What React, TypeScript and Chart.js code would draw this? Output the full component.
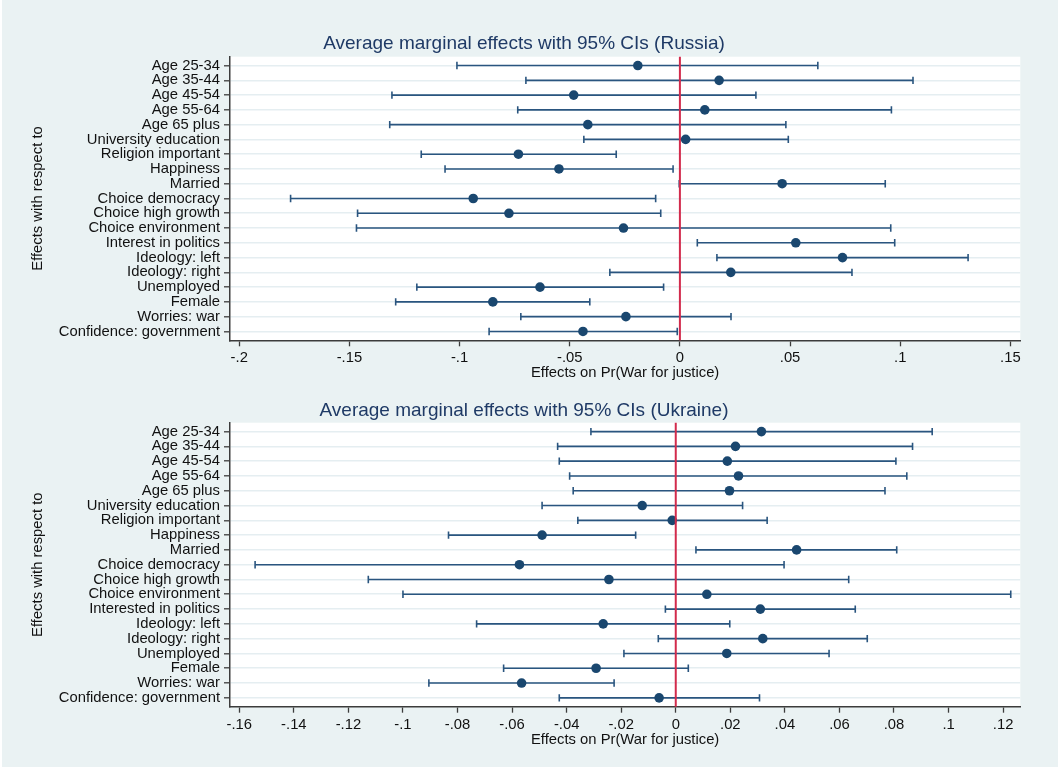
import { useEffect, useRef } from "react";
import { Chart, registerables } from "chart.js";

Chart.register(...registerables);

// ---------- data ----------
const russiaCategories = [
  "Age 25-34", "Age 35-44", "Age 45-54", "Age 55-64", "Age 65 plus",
  "University education", "Religion important", "Happiness", "Married",
  "Choice democracy", "Choice high growth", "Choice environment",
  "Interest in politics", "Ideology: left", "Ideology: right", "Unemployed",
  "Female", "Worries: war", "Confidence: government",
];
const ukraineCategories = [
  "Age 25-34", "Age 35-44", "Age 45-54", "Age 55-64", "Age 65 plus",
  "University education", "Religion important", "Happiness", "Married",
  "Choice democracy", "Choice high growth", "Choice environment",
  "Interested in politics", "Ideology: left", "Ideology: right", "Unemployed",
  "Female", "Worries: war", "Confidence: government",
];

const russiaEstimate = [-0.0191, 0.0178, -0.0482, 0.0113, -0.0418, 0.0026, -0.0733, -0.0549, 0.0464, -0.0938, -0.0776, -0.0256, 0.0526, 0.0738, 0.0231, -0.0635, -0.0849, -0.0245, -0.044];
const russiaLower = [-0.1012, -0.0699, -0.1307, -0.0736, -0.1317, -0.0436, -0.1174, -0.1066, -0.0003, -0.1767, -0.1463, -0.1468, 0.0079, 0.0168, -0.0318, -0.1194, -0.129, -0.0722, -0.0866];
const russiaUpper = [0.0626, 0.1058, 0.0345, 0.096, 0.0481, 0.0492, -0.0289, -0.0031, 0.0932, -0.011, -0.0087, 0.0957, 0.0975, 0.1308, 0.0781, -0.0074, -0.0409, 0.0232, -0.0012];

const ukraineEstimate = [0.0314, 0.0219, 0.0189, 0.023, 0.0197, -0.0123, -0.0013, -0.049, 0.0443, -0.0573, -0.0245, 0.0114, 0.031, -0.0266, 0.0319, 0.0187, -0.0292, -0.0565, -0.0061];
const ukraineLower = [-0.0311, -0.0433, -0.0427, -0.0389, -0.0376, -0.049, -0.0359, -0.0833, 0.0074, -0.1542, -0.1127, -0.1, -0.0038, -0.073, -0.0064, -0.019, -0.0631, -0.0905, -0.0427];
const ukraineUpper = [0.094, 0.0868, 0.0807, 0.0847, 0.0767, 0.0245, 0.0335, -0.0147, 0.081, 0.0397, 0.0634, 0.1228, 0.0658, 0.0198, 0.0702, 0.0562, 0.0046, -0.0226, 0.0307];

const russiaTickValues = [-0.2, -0.15, -0.1, -0.05, 0, 0.05, 0.1, 0.15];
const russiaTickLabels = ["-.2", "-.15", "-.1", "-.05", "0", ".05", ".1", ".15"];
const ukraineTickValues = [-0.16, -0.14, -0.12, -0.1, -0.08, -0.06, -0.04, -0.02, 0, 0.02, 0.04, 0.06, 0.08, 0.1, 0.12];
const ukraineTickLabels = ["-.16", "-.14", "-.12", "-.1", "-.08", "-.06", "-.04", "-.02", "0", ".02", ".04", ".06", ".08", ".1", ".12"];

const russiaRange = [-0.2042, 0.1545];
const ukraineRange = [-0.1634, 0.1263];
const zeroLineValue = 0;

const russiaTitle = "Average marginal effects with 95% CIs (Russia)";
const ukraineTitle = "Average marginal effects with 95% CIs (Ukraine)";
const xAxisTitle = "Effects on Pr(War for justice)";
const yAxisTitle = "Effects with respect to";

// ---------- style ----------
const FONT = "'Liberation Sans', Arial, Helvetica, sans-serif";
const PAGE_W = 1058;
const PAGE_H = 767;
const PLOT_LEFT = 230;
const PLOT_RIGHT = 1020.3;
const TITLE_CENTER_X = 524;
const ROW_PAD = 0.6;
const BG = "#eaf2f3";
const GRID = "#e5eef1";
const AXIS = "#3c3c3c";
const TEXT = "#111111";
const TITLE_COLOR = "#1f3a66";
const MARKER = "#1a476f";
const CI_COLOR = "#2a557f";
const ZERO_COLOR = "#d22b4c";
const TITLE_SIZE = 19;
const LABEL_SIZE = 14.8;

type Layout = { top: number; height: number; plotTop: number; plotBottom: number; titleY: number; xTitleY: number };
type Panel = {
  title: string;
  categories: string[];
  est: number[];
  lo: number[];
  hi: number[];
  tickValues: number[];
  tickLabels: string[];
  range: number[];
  layout: Layout;
};

const panels: Panel[] = [
  {
    title: russiaTitle,
    categories: russiaCategories,
    est: russiaEstimate,
    lo: russiaLower,
    hi: russiaUpper,
    tickValues: russiaTickValues,
    tickLabels: russiaTickLabels,
    range: russiaRange,
    layout: { top: 0, height: 383, plotTop: 56.7, plotBottom: 340.3, titleY: 43.5, xTitleY: 372.5 },
  },
  {
    title: ukraineTitle,
    categories: ukraineCategories,
    est: ukraineEstimate,
    lo: ukraineLower,
    hi: ukraineUpper,
    tickValues: ukraineTickValues,
    tickLabels: ukraineTickLabels,
    range: ukraineRange,
    layout: { top: 383, height: 384, plotTop: 39.7, plotBottom: 323.7, titleY: 27.3, xTitleY: 356.5 },
  },
];

const plotBackground = {
  id: "plotBackground",
  beforeDraw(chart: any) {
    const { ctx, chartArea } = chart;
    if (!chartArea) return;
    ctx.save();
    ctx.fillStyle = "#ffffff";
    ctx.fillRect(chartArea.left, chartArea.top, chartArea.right - chartArea.left, chartArea.bottom - chartArea.top);
    ctx.restore();
  },
};

const zeroLine = {
  id: "zeroLine",
  afterDatasetsDraw(chart: any) {
    const { ctx, chartArea, scales } = chart;
    const x = scales.x.getPixelForValue(zeroLineValue);
    ctx.save();
    ctx.strokeStyle = ZERO_COLOR;
    ctx.lineWidth = 2;
    ctx.beginPath();
    ctx.moveTo(x, chartArea.top);
    ctx.lineTo(x, chartArea.bottom);
    ctx.stroke();
    ctx.restore();
  },
};

function makeConfig(p: Panel): any {
  const L = p.layout;
  const titleLH = TITLE_SIZE * 1.2;
  const labelLH = LABEL_SIZE * 1.2;
  const labelFont = { family: FONT, size: LABEL_SIZE, weight: "normal" as const, lineHeight: 1.2 };
  const padRight = PAGE_W - PLOT_RIGHT;
  // full-width title box centred at TITLE_CENTER_X
  const padLeft = 2 * TITLE_CENTER_X - (PAGE_W - padRight);

  const ciData: any[] = [];
  p.categories.forEach((_, i) => {
    ciData.push({ x: p.lo[i], y: i }, { x: p.hi[i], y: i }, { x: p.hi[i], y: null });
  });
  const pointData = p.est.map((v, i) => ({ x: v, y: i }));
  const rows = p.categories.map((_, i) => i);

  return {
    type: "scatter",
    data: {
      datasets: [
        {
          type: "scatter",
          order: 0,
          data: pointData,
          pointRadius: 4.8,
          pointHoverRadius: 4.8,
          pointBackgroundColor: MARKER,
          pointBorderColor: MARKER,
          pointBorderWidth: 0,
        },
        {
          type: "line",
          order: 1,
          data: ciData,
          borderColor: CI_COLOR,
          borderWidth: 1.6,
          spanGaps: false,
          fill: false,
          tension: 0,
          pointStyle: "line",
          pointRotation: 90,
          pointRadius: 3.7,
          pointHoverRadius: 3.7,
          pointBorderColor: CI_COLOR,
          pointBorderWidth: 1.6,
          pointBackgroundColor: CI_COLOR,
        },
      ],
    },
    options: {
      animation: false,
      responsive: false,
      maintainAspectRatio: false,
      events: [],
      layout: { padding: { left: padLeft, right: padRight, top: 0, bottom: 0 } },
      plugins: {
        legend: { display: false },
        tooltip: { enabled: false },
        title: {
          display: true,
          text: p.title,
          fullSize: true,
          align: "center",
          color: TITLE_COLOR,
          font: { family: FONT, size: TITLE_SIZE, weight: "normal", lineHeight: 1.2 },
          padding: { top: L.titleY - titleLH / 2, bottom: L.plotTop - (L.titleY + titleLH / 2) },
        },
      },
      scales: {
        x: {
          type: "linear",
          position: "bottom",
          min: p.range[0],
          max: p.range[1],
          afterBuildTicks: (s: any) => {
            s.ticks = p.tickValues.map((v) => ({ value: v }));
          },
          afterFit: (s: any) => {
            s.height = L.height - L.plotBottom;
          },
          grid: { drawOnChartArea: false, drawTicks: true, tickLength: 6, tickColor: AXIS, tickWidth: 1.3 },
          border: { display: true, color: AXIS, width: 1.5 },
          ticks: {
            autoSkip: false,
            maxRotation: 0,
            padding: 3,
            color: TEXT,
            font: labelFont,
            callback: (_v: any, i: number) => p.tickLabels[i],
          },
          title: {
            display: true,
            text: xAxisTitle,
            color: TEXT,
            font: labelFont,
            padding: { top: 0, bottom: L.height - L.xTitleY - labelLH / 2 },
          },
        },
        y: {
          type: "linear",
          position: "left",
          reverse: true,
          min: -ROW_PAD,
          max: p.categories.length - 1 + ROW_PAD,
          afterBuildTicks: (s: any) => {
            s.ticks = rows.map((v) => ({ value: v }));
          },
          afterFit: (s: any) => {
            s.width = PLOT_LEFT - padLeft;
          },
          grid: { color: GRID, lineWidth: 1.6, drawTicks: true, tickLength: 6, tickColor: AXIS, tickWidth: 1.3 },
          border: { display: true, color: AXIS, width: 1.5 },
          ticks: {
            autoSkip: false,
            padding: 4,
            color: TEXT,
            font: labelFont,
            callback: (v: any) => p.categories[Math.round(v)],
          },
          title: {
            display: true,
            text: yAxisTitle,
            color: TEXT,
            font: labelFont,
            padding: { top: Math.max(0, 37.5 - labelLH / 2 - padLeft), bottom: 0 },
          },
        },
      },
    },
    plugins: [plotBackground, zeroLine],
  };
}

function PanelChart({ panel }: { panel: Panel }) {
  const ref = useRef<HTMLCanvasElement | null>(null);
  useEffect(() => {
    if (!ref.current) return;
    const chart = new Chart(ref.current, makeConfig(panel));
    return () => chart.destroy();
  }, [panel]);
  return (
    <canvas
      ref={ref}
      width={PAGE_W}
      height={panel.layout.height}
      style={{
        position: "absolute",
        left: 0,
        top: panel.layout.top,
        width: PAGE_W,
        height: panel.layout.height,
        display: "block",
      }}
    />
  );
}

export default function App() {
  return (
    <div
      style={{
        position: "fixed",
        left: 0,
        top: 0,
        width: PAGE_W,
        height: PAGE_H,
        background: BG,
        overflow: "hidden",
      }}
    >
      <div style={{ position: "absolute", left: 0, top: 0, width: 2, height: PAGE_H, background: "#ffffff" }} />
      {panels.map((p, i) => (
        <PanelChart key={i} panel={p} />
      ))}
    </div>
  );
}
